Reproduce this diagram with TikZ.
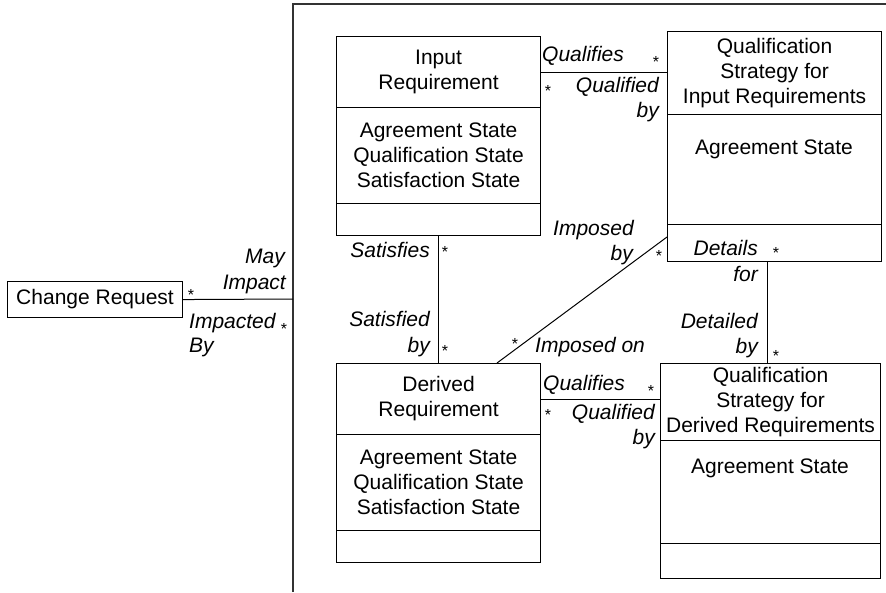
\documentclass[tikz,border=0pt]{standalone}
\usepackage{fontspec}
\setmainfont{Liberation Sans}
\usetikzlibrary{calc}
\begin{document}
\begin{tikzpicture}[x=1pt,y=-1pt,
  every node/.style={font=\fontsize{21}{25}\selectfont},
  comp/.style={draw, line width=1.1pt, anchor=north west, inner sep=0pt, align=center},
  conn/.style={line width=1pt},
  frameline/.style={line width=1.6pt, draw=black!80},
  lab/.style={inner sep=0pt, font=\fontsize{21}{25}\selectfont\itshape},
  mult/.style={inner sep=0pt, anchor=base, font=\fontsize{16}{16}\selectfont},
  txt/.style={inner sep=0pt}]
\useasboundingbox (0,0) rectangle (886,592);
% frame
\coordinate (fbl) at (293,592);
\coordinate (ftl) at (293,4);
\coordinate (ftr) at (886,4);
\draw[frameline] (fbl) -- (ftl) -- (ftr);
% Change Request
\node[comp, minimum width=175pt, minimum height=36pt] (cr) at (7,281) {Change Request};
\coordinate (fr) at (293,299);
% Input Requirement
\node[comp, minimum width=204pt, minimum height=71pt] (ir1) at (336,36) {Input\\Requirement};
\node[comp, minimum width=204pt, minimum height=96pt] (ir2) at (336,107) {Agreement State\\Qualification State\\Satisfaction State};
\node[comp, minimum width=204pt, minimum height=32pt] (ir3) at (336,203) {};
% Qualification Strategy for Input Requirements
\node[comp, minimum width=214pt, minimum height=83pt] (qi1) at (667,31) {Qualification\\Strategy for\\Input Requirements};
\node[comp, minimum width=214pt, minimum height=110pt] (qi2) at (667,114) {};
\node[comp, minimum width=214pt, minimum height=37pt] (qi3) at (667,224) {};
\node[txt, anchor=base] (qi2t) at (774,154) {Agreement State};
% Derived Requirement
\node[comp, minimum width=204pt, minimum height=71pt] (dr1) at (336,363) {Derived\\Requirement};
\node[comp, minimum width=204pt, minimum height=96pt] (dr2) at (336,434) {Agreement State\\Qualification State\\Satisfaction State};
\node[comp, minimum width=204pt, minimum height=32pt] (dr3) at (336,530) {};
% Qualification Strategy for Derived Requirements
\node[comp, minimum width=220pt, minimum height=77pt] (qd1) at (660,363) {Qualification\\Strategy for\\Derived Requirements};
\node[comp, minimum width=220pt, minimum height=103pt] (qd2) at (660,440) {};
\node[comp, minimum width=220pt, minimum height=35pt] (qd3) at (660,543) {};
\node[txt, anchor=base] (qd2t) at (770,473) {Agreement State};
% connectors
\coordinate (dcol) at (767,0);
\draw[conn] (cr.east) -- (fr);
\draw[conn] (ir1.east) -- (ir1.east -| qi1.west);
\draw[conn] (dr1.east) -- (dr1.east -| qd1.west);
\draw[conn] (ir3.south) -- (dr1.north);
\draw[conn] (qi3.south -| dcol) -- (qd1.north -| dcol);
\draw[conn] ($(dr1.north west)+(161,0)$) -- ($(qi3.north west)+(0,13)$);
% labels: change request
\node[lab, anchor=base east] (l1) at (285,263) {May};
\node[lab, anchor=base east] (l2) at (286,289) {Impact};
\node[lab, anchor=base west] (l3) at (189,328) {Impacted};
\node[lab, anchor=base west] (l4) at (189,352) {By};
\node[mult] (m1) at (191,300) {*};
\node[mult] (m2) at (284,334) {*};
% qualifies (input)
\node[lab, anchor=base west] (l5) at (542,61) {Qualifies};
\node[lab, anchor=base east] (l6) at (659,92) {Qualified};
\node[lab, anchor=base east] (l7) at (659,117) {by};
\node[mult] (m3) at (656,67) {*};
\node[mult] (m4) at (548,96) {*};
% imposed
\node[lab, anchor=base west] (l8) at (553,235) {Imposed};
\node[lab, anchor=base east] (l9) at (633,260) {by};
\node[lab, anchor=base west] (l10) at (535,352) {Imposed on};
\node[mult] (m5) at (659,261) {*};
\node[mult] (m6) at (515,349) {*};
% satisfies
\node[lab, anchor=base east] (l11) at (430,257) {Satisfies};
\node[lab, anchor=base east] (l12) at (430,326) {Satisfied};
\node[lab, anchor=base east] (l13) at (430,352) {by};
\node[mult] (m7) at (445,257) {*};
\node[mult] (m8) at (445,356) {*};
% details
\node[lab, anchor=base east] (l14) at (758,255) {Details};
\node[lab, anchor=base east] (l15) at (758,281) {for};
\node[lab, anchor=base east] (l16) at (758,328) {Detailed};
\node[lab, anchor=base east] (l17) at (758,353) {by};
\node[mult] (m9) at (776,258) {*};
\node[mult] (m10) at (776,361) {*};
% qualifies (derived)
\node[lab, anchor=base west] (l18) at (543,390) {Qualifies};
\node[lab, anchor=base east] (l19) at (655,419) {Qualified};
\node[lab, anchor=base east] (l20) at (655,444) {by};
\node[mult] (m11) at (651,396) {*};
\node[mult] (m12) at (548,420) {*};
\end{tikzpicture}
\end{document}
